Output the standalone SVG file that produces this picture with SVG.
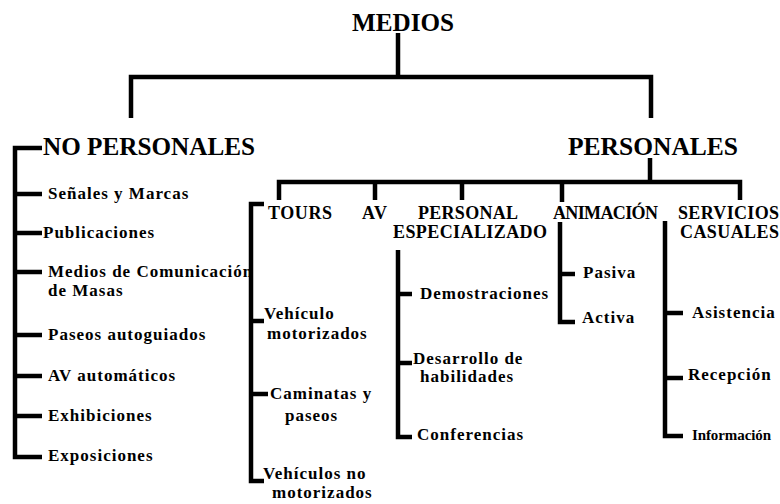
<svg xmlns="http://www.w3.org/2000/svg" width="780" height="504" viewBox="0 0 780 504">
<style>
text{font-family:"Liberation Serif","Times New Roman",serif;font-weight:bold;fill:#000}
.h{font-size:25px}
.s{font-size:18px}
.i{font-size:17px;letter-spacing:1px}
.c path{fill:none;stroke:#000;stroke-width:4.5;stroke-linejoin:miter;stroke-linecap:butt}
</style>
<rect width="780" height="504" fill="#fff"/>
<g class="c" id="connectors">
<path d="M398,33 V77"/>
<path d="M131,118 V77 H651 V118"/>
<path d="M42,148 H15 V457 H42"/>
<path d="M15,194 H42 M15,233 H42 M15,272 H42 M15,335 H42 M15,376 H42 M15,416 H42"/>
<path d="M650,158 V182"/>
<path d="M279,200 V182 H740 V200"/>
<path d="M375,182 V200 M462,182 V200 M562,182 V202"/>
<path d="M264,204 H251 V481 H264"/>
<path d="M251,321 H264 M251,394 H268"/>
<path d="M398,250 V437 H412"/>
<path d="M398,294 H412 M398,363 H412"/>
<path d="M560,222 V322 H575"/>
<path d="M560,274 H575"/>
<path d="M665,221 V436 H683"/>
<path d="M665,313 H683 M665,378 H683"/>
</g>
<g id="medios"><text class="h" x="352" y="31" textLength="102" lengthAdjust="spacingAndGlyphs">MEDIOS</text></g>
<g id="no-personales"><text class="h" x="43" y="155" textLength="212" lengthAdjust="spacingAndGlyphs">NO PERSONALES</text></g>
<g id="personales"><text class="h" x="568" y="155" textLength="170" lengthAdjust="spacingAndGlyphs">PERSONALES</text></g>
<g id="senales"><text class="i" x="48" y="199">Señales y Marcas</text></g>
<g id="publicaciones"><text class="i" x="43" y="238">Publicaciones</text></g>
<g id="medios-com"><text class="i" x="48" y="277">Medios de Comunicación</text><text class="i" x="48" y="296">de Masas</text></g>
<g id="paseos"><text class="i" x="48" y="340">Paseos autoguiados</text></g>
<g id="av-auto"><text class="i" x="48" y="381">AV automáticos</text></g>
<g id="exhibiciones"><text class="i" x="48" y="421">Exhibiciones</text></g>
<g id="exposiciones"><text class="i" x="48" y="461">Exposiciones</text></g>
<g id="tours"><text class="s" x="268" y="219" textLength="64">TOURS</text></g>
<g id="av"><text class="s" x="362" y="219" textLength="25">AV</text></g>
<g id="personal-esp"><text class="s" x="418" y="219" textLength="100">PERSONAL</text><text class="s" x="393" y="238" textLength="154">ESPECIALIZADO</text></g>
<g id="animacion"><text class="s" x="553" y="219" textLength="105">ANIMACIÓN</text></g>
<g id="servicios"><text class="s" x="678" y="219" textLength="101">SERVICIOS</text><text class="s" x="680" y="238" textLength="99">CASUALES</text></g>
<g id="vehiculo-mot"><text class="i" x="264" y="319">Vehículo</text><text class="i" x="267" y="339">motorizados</text></g>
<g id="caminatas"><text class="i" x="270" y="399">Caminatas y</text><text class="i" x="285" y="421">paseos</text></g>
<g id="vehiculos-no"><text class="i" x="263" y="479">Vehículos no</text><text class="i" x="272" y="498">motorizados</text></g>
<g id="demostraciones"><text class="i" x="420" y="299">Demostraciones</text></g>
<g id="desarrollo"><text class="i" x="413" y="364">Desarrollo de</text><text class="i" x="420" y="382">habilidades</text></g>
<g id="conferencias"><text class="i" x="417" y="440">Conferencias</text></g>
<g id="pasiva"><text class="i" x="583" y="278">Pasiva</text></g>
<g id="activa"><text class="i" x="582" y="323">Activa</text></g>
<g id="asistencia"><text class="i" x="692" y="318">Asistencia</text></g>
<g id="recepcion"><text class="i" x="688" y="380">Recepción</text></g>
<g id="informacion"><text class="i" x="692" y="440" style="font-size:15px" textLength="80">Información</text></g>
</svg>
